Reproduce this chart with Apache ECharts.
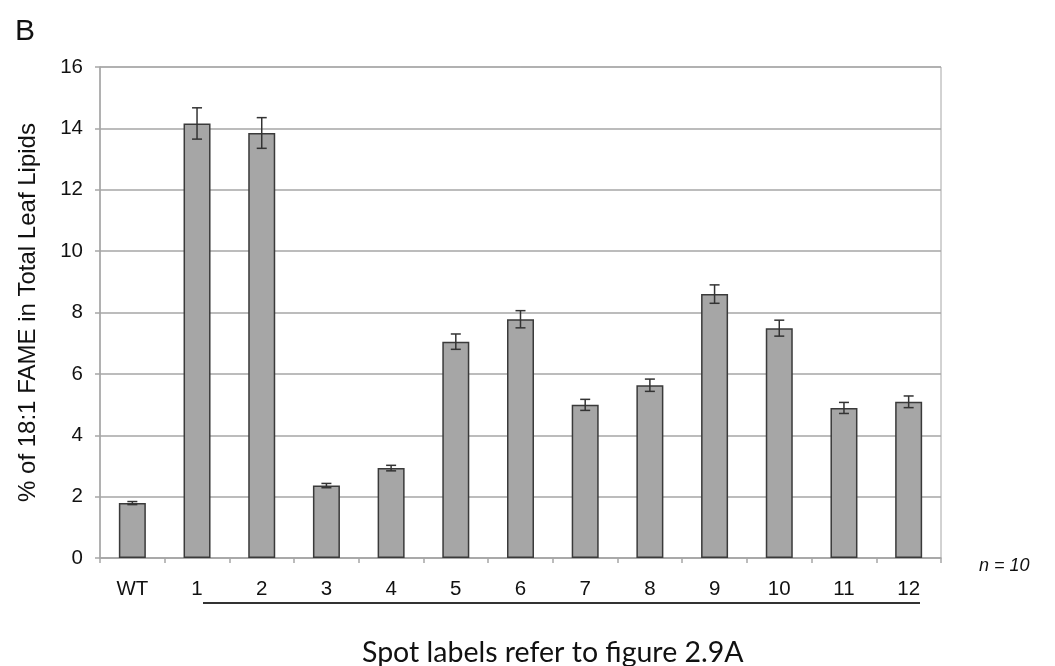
<!DOCTYPE html>
<html>
<head>
<meta charset="utf-8">
<script src="https://cdn.jsdelivr.net/npm/echarts@6/dist/echarts.min.js"></script>
<style>html,body{margin:0;padding:0;background:#fff}#c{width:1055px;height:666px}</style>
</head>
<body>
<div id="c"></div>
<script>
const categories = ['WT','1','2','3','4','5','6','7','8','9','10','11','12'];
const values = [1.79, 14.16, 13.85, 2.36, 2.93, 7.05, 7.78, 4.99, 5.63, 8.60, 7.49, 4.89, 5.09];
const errors = [0.05, 0.51, 0.50, 0.07, 0.09, 0.25, 0.28, 0.18, 0.20, 0.30, 0.26, 0.18, 0.19];
const yTicks = [0, 2, 4, 6, 8, 10, 12, 14, 16];

const chart = echarts.init(document.getElementById('c'), null, {renderer: 'canvas'});
const axisGray = '#a6a6a6';
const fontFam = '"Liberation Sans", Arial, sans-serif';

chart.setOption({
  animation: false,
  backgroundColor: '#ffffff',
  title: {text: 'B', left: 10, top: 12, textStyle: {fontFamily: fontFam, fontSize: 30, fontWeight: 'normal', color: '#111'}},
  grid: {left: 100, right: 114, top: 67, bottom: 108, show: true, borderColor: axisGray, borderWidth: 1},
  xAxis: {
    type: 'category', data: categories, boundaryGap: true,
    axisLine: {lineStyle: {color: axisGray, width: 1.5}},
    axisTick: {show: true, interval: 0, length: 5, lineStyle: {color: axisGray, width: 1.5}},
    axisLabel: {interval: 0, margin: 21, color: '#111', fontFamily: fontFam, fontSize: 20.5}
  },
  yAxis: {
    type: 'value', min: yTicks[0], max: yTicks[yTicks.length - 1], interval: 2,
    name: '% of 18:1 FAME in Total Leaf Lipids', nameLocation: 'middle', nameGap: 60,
    nameTextStyle: {fontFamily: fontFam, fontSize: 24, color: '#111'},
    axisLine: {show: true, lineStyle: {color: axisGray, width: 1.5}},
    axisTick: {show: true, length: 5, lineStyle: {color: axisGray, width: 1.5}},
    axisLabel: {margin: 17, color: '#111', fontFamily: fontFam, fontSize: 20.5},
    splitLine: {lineStyle: {color: axisGray, width: 1.5}}
  },
  series: [
    {
      type: 'bar', data: values, barWidth: 27,
      itemStyle: {color: '#a6a6a6', borderColor: '#3a3a3a', borderWidth: 1.5}
    },
    {
      type: 'custom',
      data: values.map((v, i) => [i, v - errors[i], v + errors[i]]),
      renderItem: function (params, api) {
        const x = api.value(0);
        const lo = api.coord([x, api.value(1)]);
        const hi = api.coord([x, api.value(2)]);
        const hw = 5;
        const st = {stroke: '#333', lineWidth: 1.5};
        return {
          type: 'group',
          children: [
            {type: 'line', shape: {x1: hi[0], y1: hi[1], x2: lo[0], y2: lo[1]}, style: st},
            {type: 'line', shape: {x1: hi[0] - hw, y1: hi[1], x2: hi[0] + hw, y2: hi[1]}, style: st},
            {type: 'line', shape: {x1: lo[0] - hw, y1: lo[1], x2: lo[0] + hw, y2: lo[1]}, style: st}
          ]
        };
      },
      z: 5
    }
  ],
  graphic: [
    {type: 'line', shape: {x1: 203, y1: 603, x2: 920, y2: 603}, style: {stroke: '#333', lineWidth: 2}},
    {type: 'text', left: 979, top: 557, style: {text: 'n = 10', fontFamily: fontFam, fontSize: 18, fontStyle: 'italic', fill: '#111'}},
    {type: 'text', left: 362, top: 638, style: {text: 'Spot labels refer to figure 2.9A', fontFamily: 'Lato, "Open Sans", sans-serif', fontSize: 28.5, fill: '#111'}}
  ]
});
</script>
</body>
</html>
